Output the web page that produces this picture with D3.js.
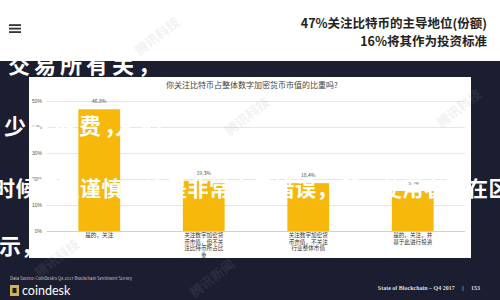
<!DOCTYPE html>
<html>
<head>
    <meta charset="utf-8">
    <style>
        body { margin: 0; background: #fff; }
        svg { display: block; font-family: "Noto Sans CJK SC", "Noto Sans", sans-serif; }
    </style>
    <script src="https://d3js.org/d3.v7.min.js"></script>
</head>
<body>
    <svg width="500" height="300"></svg>
    <script>
        var categories = ["是的，关注", "关注数字加密货币市值，但不关注比特币所占比重", "关注数字加密货币市值，不关注行业整体市值", "是的，关注，并基于此进行投资"];
        var values = [46.8, 19.3, 18.4, 15.4];
        var yTicks = [0, 10, 20, 30, 40, 50];
        var headLines = ["47%关注比特币的主导地位(份额)", "16%将其作为投资标准"];
        var title = "你关注比特币占整体数字加密货币市值的比重吗?";

        var svg = d3.select("svg");

        // page background: white header, navy slide
        svg.append("rect").attr("width", 500).attr("height", 300).attr("fill", "#fff");
        svg.append("rect").attr("y", 61).attr("width", 500).attr("height", 239).attr("fill", "#1b1d31");

        // hamburger icon
        [25, 28.5, 32].forEach(function(y) {
            svg.append("rect").attr("x", 9).attr("y", y - 0.8).attr("width", 12).attr("height", 1.8).attr("fill", "#333");
        });

        svg.selectAll(".head").data(headLines).enter().append("text")
            .attr("class", "head")
            .attr("x", 487).attr("y", function(d, i) { return 28 + i * 18; })
            .attr("text-anchor", "end")
            .style("font-size", "12.5px").style("font-weight", "bold").attr("fill", "#222")
            .text(function(d) { return d; });

        // white chart panel
        svg.append("rect").attr("x", 29).attr("y", 77).attr("width", 442).attr("height", 181).attr("fill", "#fff");

        svg.append("text").attr("x", 252).attr("y", 88).attr("text-anchor", "middle")
            .style("font-size", "8px").attr("fill", "#444").text(title);

        var x = d3.scaleBand().domain(categories).range([47, 465]).paddingInner(0.6).paddingOuter(0.3);
        var y = d3.scaleLinear().domain([0, 50]).range([231, 101]);

        var yAxis = svg.append("g").attr("transform", "translate(47,0)")
            .call(d3.axisLeft(y).tickValues(yTicks).tickSize(-418).tickPadding(5)
                .tickFormat(function(d) { return d + "%"; }));
        yAxis.select(".domain").remove();
        yAxis.selectAll("line").attr("stroke", function(d) { return d == 0 ? "#d0d0d0" : "#e6e6e6"; });
        yAxis.selectAll("text").attr("fill", "#555").style("font-size", "5px");

        svg.selectAll(".bar").data(values).enter().append("rect")
            .attr("class", "bar")
            .attr("x", function(d, i) { return x(categories[i]); })
            .attr("y", function(d) { return y(d); })
            .attr("width", x.bandwidth())
            .attr("height", function(d) { return y(0) - y(d); })
            .attr("fill", "#f6b80b");

        svg.selectAll(".val").data(values).enter().append("text")
            .attr("class", "val")
            .attr("x", function(d, i) { return x(categories[i]) + x.bandwidth() / 2; })
            .attr("y", function(d) { return y(d) - 6; })
            .attr("text-anchor", "middle")
            .style("font-size", "5px").attr("fill", "#444")
            .text(function(d) { return d.toFixed(1) + "%"; });

        // category labels wrapped every 7 characters
        var lab = svg.selectAll(".cat").data(categories).enter().append("text")
            .attr("class", "cat")
            .attr("text-anchor", "middle")
            .style("font-size", "5.6px").attr("fill", "#333");
        lab.each(function(d) {
            var t = d3.select(this), cx = x(d) + x.bandwidth() / 2;
            for (var k = 0; k * 7 < d.length; k++) {
                t.append("tspan").attr("x", cx).attr("y", 237 + k * 6.6).text(d.slice(k * 7, k * 7 + 7));
            }
        });

        // footer
        svg.append("text").attr("x", 10).attr("y", 280)
            .style("font-size", "4.2px").attr("fill", "#ccc")
            .text("Data Source: CoinDesk's Q4 2017 Blockchain Sentiment Survey");
        svg.append("rect").attr("x", 10).attr("y", 285).attr("width", 9).attr("height", 11).attr("fill", "#d8b24a");
        svg.append("rect").attr("x", 12.5).attr("y", 288).attr("width", 4).attr("height", 5).attr("fill", "#1b1d31");
        svg.append("text").attr("x", 22).attr("y", 295)
            .style("font-family", "Lato, 'Open Sans', sans-serif").style("font-size", "12.5px").attr("fill", "#fff")
            .text("coindesk");
        svg.append("text").attr("x", 480).attr("y", 290).attr("text-anchor", "end")
            .style("font-family", "'Liberation Serif', 'DejaVu Serif', serif").style("font-size", "6px")
            .style("font-weight", "bold").attr("fill", "#ddd").attr("xml:space", "preserve")
            .text("State of Blockchain – Q4 2017     |     153");

        // faint watermarks
        var marks = [[60, 262, "腾讯科技"], [215, 282, "腾讯新闻"], [462, 112, "腾讯科技"], [250, 120, "腾讯科技"], [160, 40, "腾讯科技"]];
        marks.forEach(function(m) {
            svg.append("text").attr("transform", "translate(" + m[0] + "," + m[1] + ") rotate(-38)")
                .attr("text-anchor", "middle").style("font-size", "13px").style("font-weight", "bold")
                .attr("fill", "#9a9aa8").attr("opacity", 0.13).text(m[2]);
        });

        // white subtitle overlay from the video
        var overlay = svg.append("g").attr("fill", "#fff").style("font-weight", "bold");
        overlay.append("text").attr("x", 8).attr("y", 73).style("font-size", "22px")
            .style("letter-spacing", "4px").text("交易所有关，");
        var l2 = overlay.append("text").attr("x", 4).attr("y", 134).style("font-size", "22px")
            .style("letter-spacing", "3px");
        l2.append("tspan").text("少数收费，");
        l2.append("tspan").attr("dx", -14).text("人们");
        overlay.append("text").attr("x", -6).attr("y", 196).style("font-size", "21px")
            .style("letter-spacing", "0.5px").text("时候要更谨慎，这是非常容易错误，所以使用者要在区");
        overlay.append("text").attr("x", -1).attr("y", 254).style("font-size", "22px").text("示，");
    </script>
</body>
</html>
